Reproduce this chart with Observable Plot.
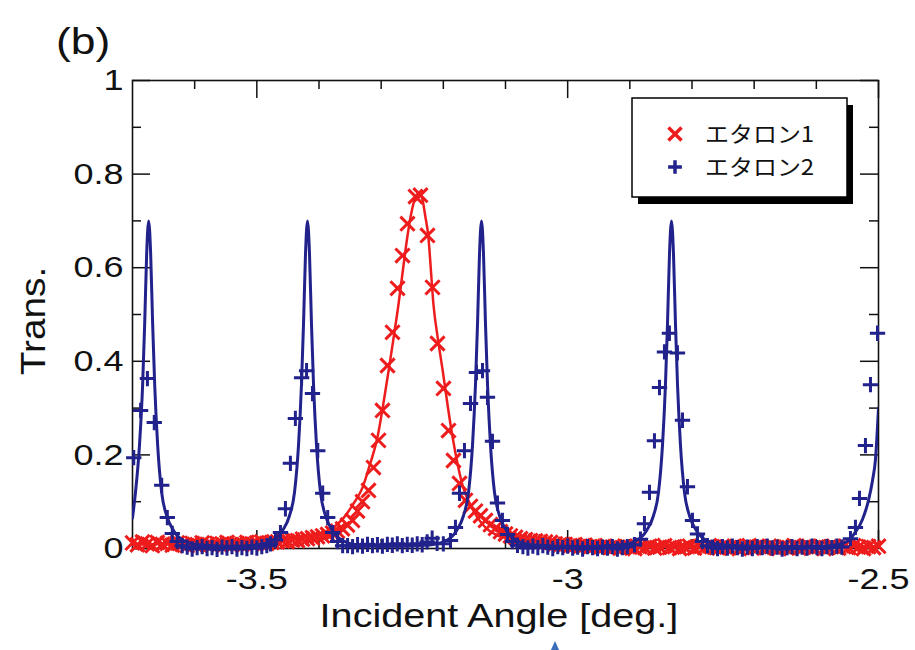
<!DOCTYPE html>
<html>
<head>
<meta charset="utf-8">
<script src="https://cdn.jsdelivr.net/npm/d3@7"></script>
<script src="https://cdn.jsdelivr.net/npm/@observablehq/plot@0.6"></script>
<style>
  html, body { margin: 0; padding: 0; background: #fff; }
  #chart { width: 915px; height: 650px; }
</style>
</head>
<body>
<div id="chart"></div>
<script>
// ---------------- data ----------------
const seriesNames = ["エタロン1", "エタロン2"];
const xTickLabels = [-3.5, -3, -2.5];
const yTickLabels = [0, 0.2, 0.4, 0.6, 0.8, 1];
const xMinorTicks = [-3.6, -3.4, -3.3, -3.2, -3.1, -2.9, -2.8, -2.7, -2.6];
const yMinorTicks = [0.1, 0.3, 0.5, 0.7, 0.9];

// Etalon 1 measured points (red ×)
const etalon1Angle = [
  -3.700, -3.692, -3.684, -3.676, -3.668, -3.660, -3.652, -3.644, -3.636, -3.628,
  -3.620, -3.612, -3.604, -3.596, -3.588, -3.580, -3.572, -3.564, -3.556, -3.548,
  -3.540, -3.532, -3.524, -3.516, -3.508, -3.500, -3.492, -3.484, -3.476,
  -3.4668, -3.4587, -3.4507, -3.4426, -3.4346, -3.4266, -3.4185, -3.4105, -3.4024, -3.3944,
  -3.3863, -3.3783, -3.3703, -3.3622, -3.3542, -3.3461, -3.3381, -3.3300, -3.3204, -3.3124,
  -3.3043, -3.2979, -3.2898, -3.2818, -3.2737, -3.2657, -3.2577, -3.2448, -3.2368, -3.2255,
  -3.2174, -3.2094, -3.1998, -3.1917, -3.1837, -3.1740, -3.1644, -3.1563, -3.1483, -3.1402,
  -3.1322, -3.1242, -3.1161, -3.1081, -3.1000, -3.0920, -3.0839, -3.0759, -3.0679, -3.0598,
  -3.0518, -3.0437, -3.0357, -3.0276,
  -3.020, -3.012, -3.004, -2.996, -2.988, -2.980, -2.972, -2.964, -2.956, -2.948, -2.940,
  -2.932, -2.924, -2.916, -2.908, -2.900, -2.892, -2.884, -2.876, -2.868, -2.860, -2.852,
  -2.844, -2.836, -2.828, -2.820, -2.812, -2.804, -2.796, -2.788, -2.780, -2.772, -2.764,
  -2.756, -2.748, -2.740, -2.732, -2.724, -2.716, -2.708, -2.700, -2.692, -2.684, -2.676,
  -2.668, -2.660, -2.652, -2.644, -2.636, -2.628, -2.620, -2.612, -2.604, -2.596, -2.588,
  -2.580, -2.572, -2.564, -2.556, -2.548, -2.540, -2.532, -2.524, -2.516, -2.508, -2.500
];
const etalon1Trans = [
  0.012, 0.008, 0.014, 0.010, 0.006, 0.013, 0.009, 0.011, 0.007, 0.012,
  0.009, 0.006, 0.011, 0.008, 0.012, 0.009, 0.007, 0.011, 0.010, 0.013,
  0.008, 0.011, 0.009, 0.013, 0.010, 0.012, 0.014, 0.011, 0.013,
  0.014, 0.016, 0.015, 0.018, 0.017, 0.020, 0.021, 0.023, 0.025, 0.027,
  0.030, 0.033, 0.037, 0.042, 0.050, 0.060, 0.080, 0.100, 0.124, 0.173,
  0.231, 0.295, 0.391, 0.462, 0.556, 0.626, 0.694, 0.752, 0.755, 0.669,
  0.558, 0.438, 0.342, 0.252, 0.188, 0.139, 0.103, 0.090, 0.080, 0.070,
  0.060, 0.051, 0.043, 0.036, 0.031, 0.027, 0.024, 0.021, 0.019, 0.017,
  0.016, 0.015, 0.014, 0.013,
  0.010, 0.008, 0.009, 0.006, 0.008, 0.005, 0.007, 0.004, 0.006, 0.003, 0.005,
  0.002, 0.004, 0.001, 0.005, 0.003, 0.000, 0.004, 0.002, 0.005, 0.001, 0.003,
  0.006, 0.002, 0.004, 0.000, 0.003, 0.005, 0.001, 0.004, 0.002, 0.006, 0.003,
  0.001, 0.004, 0.002, 0.005, 0.000, 0.003, 0.006, 0.002, 0.004, 0.001, 0.005,
  0.003, 0.000, 0.004, 0.002, 0.006, 0.001, 0.003, 0.005, 0.002, 0.004, 0.000,
  0.003, 0.005, 0.001, 0.004, 0.002, 0.006, 0.003, 0.000, 0.004, 0.002, 0.005
];

// Etalon 2 measured points (blue +)
const etalon2Angle = [
  -3.698, -3.687, -3.676, -3.665, -3.653, -3.644, -3.636, -3.628, -3.620,
  -3.612, -3.604, -3.596, -3.588, -3.580, -3.572, -3.564, -3.556, -3.548, -3.540,
  -3.532, -3.524, -3.516, -3.508, -3.500, -3.492, -3.484,
  -3.478, -3.470, -3.462, -3.454, -3.446, -3.438, -3.428, -3.420, -3.4105, -3.402,
  -3.394, -3.386, -3.378, -3.370, -3.362,
  -3.354, -3.346, -3.338, -3.330, -3.322, -3.314, -3.306, -3.298, -3.290, -3.282,
  -3.274, -3.266, -3.258, -3.250, -3.242, -3.234, -3.226, -3.218, -3.210,
  -3.200, -3.1885, -3.1805, -3.174, -3.166, -3.1563, -3.1467, -3.137, -3.129, -3.1209,
  -3.1129, -3.1049, -3.0968, -3.0888, -3.0807,
  -3.072, -3.064, -3.056, -3.048, -3.040, -3.032, -3.024, -3.016, -3.008, -3.000,
  -2.992, -2.984, -2.976, -2.968, -2.960, -2.952, -2.944, -2.936, -2.928, -2.920,
  -2.912, -2.904,
  -2.8925, -2.8829, -2.8765, -2.8684, -2.8604, -2.8523, -2.8443, -2.8363, -2.8234, -2.8153,
  -2.8073, -2.7992, -2.7912, -2.7832, -2.7751,
  -2.767, -2.759, -2.751, -2.743, -2.735, -2.727, -2.719, -2.711, -2.703, -2.695,
  -2.687, -2.679, -2.671, -2.663, -2.655, -2.647, -2.639, -2.631, -2.623, -2.615,
  -2.607, -2.599, -2.591, -2.583, -2.575, -2.567, -2.559,
  -2.5451, -2.5371, -2.5306, -2.5210, -2.5129, -2.5016
];
const etalon2Trans = [
  0.194, 0.295, 0.363, 0.269, 0.135, 0.066, 0.032, 0.015, 0.006,
  0.003, -0.001, 0.002, 0.004, 0.000, 0.002, -0.002, 0.003, 0.001, 0.004,
  -0.001, 0.002, 0.000, 0.003, 0.001, 0.004, 0.006,
  0.010, 0.018, 0.034, 0.085, 0.182, 0.278, 0.365, 0.380, 0.331, 0.209,
  0.118, 0.066, 0.034, 0.015, 0.006,
  0.006, 0.004, 0.008, 0.005, 0.009, 0.006, 0.008, 0.005, 0.009, 0.007,
  0.010, 0.006, 0.009, 0.007, 0.010, 0.008, 0.014, 0.022, 0.011,
  0.010, 0.017, 0.045, 0.118, 0.209, 0.310, 0.376, 0.380, 0.323, 0.229,
  0.097, 0.060, 0.030, 0.015, 0.007,
  0.004, 0.001, 0.005, 0.002, 0.006, 0.003, 0.000, 0.004, 0.002, 0.005,
  0.001, 0.003, -0.001, 0.004, 0.002, 0.000, 0.003, 0.001, 0.004, -0.001,
  0.002, 0.004,
  0.008, 0.020, 0.053, 0.120, 0.230, 0.344, 0.420, 0.460, 0.418, 0.274,
  0.132, 0.060, 0.031, 0.015, 0.006,
  0.003, 0.000, 0.004, 0.001, 0.005, 0.002, -0.001, 0.003, 0.000, 0.004,
  0.002, 0.005, 0.001, 0.003, -0.001, 0.002, 0.004, 0.000, 0.003, 0.001,
  0.005, 0.002, 0.000, 0.004, 0.002, 0.005, 0.003,
  0.021, 0.045, 0.107, 0.220, 0.350, 0.460
];

// Fitted curve for Etalon 1 (red line)
const fit1Angle = [
  -3.70, -3.60, -3.50, -3.45, -3.40, -3.38, -3.36, -3.345, -3.33, -3.318,
  -3.306, -3.297, -3.288, -3.28, -3.272, -3.265, -3.258, -3.251, -3.245, -3.240,
  -3.235, -3.229, -3.224, -3.220, -3.216, -3.209, -3.201, -3.193, -3.185, -3.177,
  -3.168, -3.157, -3.145, -3.13, -3.113, -3.09, -3.05, -3.00, -2.90, -2.75, -2.50
];
const fit1Trans = [
  0.008, 0.011, 0.015, 0.020, 0.030, 0.042, 0.066, 0.095, 0.130, 0.180,
  0.237, 0.305, 0.380, 0.450, 0.523, 0.595, 0.665, 0.720, 0.750, 0.757,
  0.752, 0.710, 0.665, 0.595, 0.523, 0.450, 0.380, 0.305, 0.237, 0.180,
  0.130, 0.095, 0.066, 0.042, 0.028, 0.020, 0.014, 0.011, 0.008, 0.006, 0.005
];

// Fitted curve for Etalon 2 (blue line)
const fit2Angle = [
  -3.700, -3.6952, -3.6888, -3.6837, -3.6804, -3.6772, -3.6740, -3.6708, -3.6676, -3.6643,
  -3.6595, -3.6531, -3.6450, -3.6338, -3.6177, -3.5936, -3.546,
  -3.4989, -3.4748, -3.4587, -3.4475, -3.4394, -3.4330, -3.4282, -3.4249, -3.4217, -3.4185,
  -3.4153, -3.4121, -3.4088, -3.4040, -3.3976, -3.3895, -3.3783, -3.3622, -3.3381, -3.2786,
  -3.2190, -3.1949, -3.1788, -3.1676, -3.1595, -3.1531, -3.1483, -3.1450, -3.1418, -3.1386,
  -3.1354, -3.1322, -3.1289, -3.1241, -3.1177, -3.1096, -3.0984, -3.0823, -3.0582, -2.9858,
  -2.9134, -2.8893, -2.8732, -2.8620, -2.8539, -2.8475, -2.8427, -2.8394, -2.8362, -2.8330,
  -2.8298, -2.8266, -2.8233, -2.8185, -2.8121, -2.8040, -2.7928, -2.7767, -2.7526, -2.680,
  -2.600, -2.5773, -2.5532, -2.5371, -2.5258, -2.5161, -2.5097, -2.5049, -2.5000
];
const fit2Trans = [
  0.065, 0.120, 0.220, 0.350, 0.480, 0.630, 0.700, 0.630, 0.480, 0.350,
  0.220, 0.120, 0.070, 0.038, 0.017, 0.008, 0.005,
  0.008, 0.017, 0.038, 0.070, 0.120, 0.220, 0.350, 0.480, 0.630, 0.700,
  0.630, 0.480, 0.350, 0.220, 0.120, 0.070, 0.038, 0.017, 0.008, 0.005,
  0.008, 0.017, 0.038, 0.070, 0.120, 0.220, 0.350, 0.480, 0.630, 0.700,
  0.630, 0.480, 0.350, 0.220, 0.120, 0.070, 0.038, 0.017, 0.008, 0.004,
  0.008, 0.017, 0.038, 0.070, 0.120, 0.220, 0.350, 0.480, 0.630, 0.700,
  0.630, 0.480, 0.350, 0.220, 0.120, 0.070, 0.038, 0.017, 0.008, 0.004,
  0.004, 0.006, 0.013, 0.035, 0.062, 0.103, 0.145, 0.190, 0.300
];

// ---------------- chart ----------------
const W = 915, H = 650;
const mL = 132, mR = 37, mT = 80, mB = 102;
const iw = W - mL - mR, ih = H - mT - mB;
const RED = "#ee1c1c", BLUE = "#22228c", INK = "#111";
const FONT = "'Liberation Sans', Arial, Helvetica, sans-serif";

const pts1 = etalon1Angle.map((x, i) => ({x, y: etalon1Trans[i]}));
const pts2 = etalon2Angle.map((x, i) => ({x, y: etalon2Trans[i]}));
const fit1 = fit1Angle.map((x, i) => ({x, y: fit1Trans[i]}));
const fit2 = fit2Angle.map((x, i) => ({x, y: fit2Trans[i]}));

const tickStyle = {stroke: INK, strokeWidth: 1.5};
const plot = Plot.plot({
  width: W, height: H,
  marginLeft: mL, marginRight: mR, marginTop: mT, marginBottom: mB,
  x: {domain: [-3.7, -2.5]},
  y: {domain: [0, 1]},
  style: {fontFamily: FONT, background: "#fff", color: INK, overflow: "visible"},
  marks: [
    Plot.axisX(xTickLabels, {anchor: "bottom", tickSize: 0, tickPadding: 19, fontSize: 30, tickFormat: d => String(d), label: null}),
    Plot.axisY(yTickLabels, {anchor: "left", tickSize: 0, tickPadding: 9, fontSize: 30, tickFormat: d => String(d), label: null}),
    Plot.ruleY(yMinorTicks, {...tickStyle, insetRight: iw - 9}),
    Plot.ruleY(yTickLabels, {...tickStyle, insetRight: iw - 18}),
    Plot.ruleY(yMinorTicks, {...tickStyle, insetLeft: iw - 9}),
    Plot.ruleY(yTickLabels, {...tickStyle, insetLeft: iw - 18}),
    Plot.ruleX(xMinorTicks, {...tickStyle, insetBottom: ih - 9}),
    Plot.ruleX(xTickLabels, {...tickStyle, insetBottom: ih - 18}),
    Plot.ruleX(xMinorTicks, {...tickStyle, insetTop: ih - 9}),
    Plot.ruleX(xTickLabels, {...tickStyle, insetTop: ih - 18}),
    Plot.frame({stroke: INK, strokeWidth: 1.6}),
    Plot.dot(pts1, {x: "x", y: "y", symbol: "times", r: 6.5, stroke: RED, strokeWidth: 3}),
    Plot.line(fit1, {x: "x", y: "y", stroke: RED, strokeWidth: 2.5, curve: "monotone-x"}),
    Plot.dot(pts2, {x: "x", y: "y", symbol: "plus", r: 5, stroke: BLUE, strokeWidth: 3}),
    Plot.line(fit2, {x: "x", y: "y", stroke: BLUE, strokeWidth: 3, curve: "monotone-x", clip: true})
  ]
});
document.getElementById("chart").appendChild(plot);

const svg = d3.select(plot);

// titles
svg.append("text").attr("class", "stretch")
  .attr("x", 56).attr("y", 54).attr("text-anchor", "start")
  .attr("font-size", 37).attr("font-family", FONT).attr("fill", INK)
  .text("(b)");
svg.append("text").attr("class", "stretch")
  .attr("x", 499).attr("y", 627).attr("text-anchor", "middle")
  .attr("font-size", 33).attr("font-family", FONT).attr("fill", INK)
  .text("Incident Angle [deg.]");
svg.append("text").attr("class", "stretch-y")
  .attr("transform", "translate(45,321) rotate(-90)").attr("text-anchor", "middle")
  .attr("font-size", 36).attr("font-family", FONT).attr("fill", INK)
  .text("Trans.");

// legend
const lg = svg.append("g");
lg.append("rect").attr("x", 638).attr("y", 105).attr("width", 215).attr("height", 99).attr("fill", "#000");
lg.append("rect").attr("x", 632).attr("y", 98).attr("width", 215).attr("height", 99)
  .attr("fill", "#fff").attr("stroke", "#000").attr("stroke-width", 1.5);
const legendRows = [
  {name: seriesNames[0], color: RED, type: d3.symbolTimes, size: Math.PI * 6 * 6, y: 134},
  {name: seriesNames[1], color: BLUE, type: d3.symbolPlus, size: Math.PI * 4.5 * 4.5, y: 167}
];
legendRows.forEach(r => {
  lg.append("path").attr("d", d3.symbol(r.type, r.size)())
    .attr("transform", `translate(675,${r.y})`)
    .attr("fill", "none").attr("stroke", r.color).attr("stroke-width", 3.5);
  lg.append("text").attr("class", "stretch-l")
    .attr("x", 705).attr("y", r.y).attr("dy", "0.36em").attr("text-anchor", "start")
    .attr("font-size", 22).attr("font-family", "'Noto Sans CJK JP', sans-serif").attr("fill", INK)
    .text(r.name);
});

// small blue arrow tip at the bottom edge (cropped in the original)
svg.append("path").attr("d", "M555,641 L550.5,651 L559.5,651 Z").attr("fill", "#3a6db5");

// widen the text to match the reference typeface
function stretch(t, k) {
  const b = t.getBBox();
  const a = getComputedStyle(t).textAnchor;
  const ax = a === "end" ? b.x + b.width : a === "middle" ? b.x + b.width / 2 : b.x;
  const cy = b.y + b.height / 2;
  const tr = t.getAttribute("transform") || "";
  t.setAttribute("transform", `${tr} translate(${ax},${cy}) scale(${k},1) translate(${-ax},${-cy})`);
}
plot.querySelectorAll('g[aria-label="x-axis tick label"] text, g[aria-label="y-axis tick label"] text')
  .forEach(t => stretch(t, 1.2));
plot.querySelectorAll("text.stretch").forEach(t => stretch(t, 1.2));
plot.querySelectorAll("text.stretch-y").forEach(t => stretch(t, 1.08));
plot.querySelectorAll("text.stretch-l").forEach(t => stretch(t, 1.09));
</script>
</body>
</html>
